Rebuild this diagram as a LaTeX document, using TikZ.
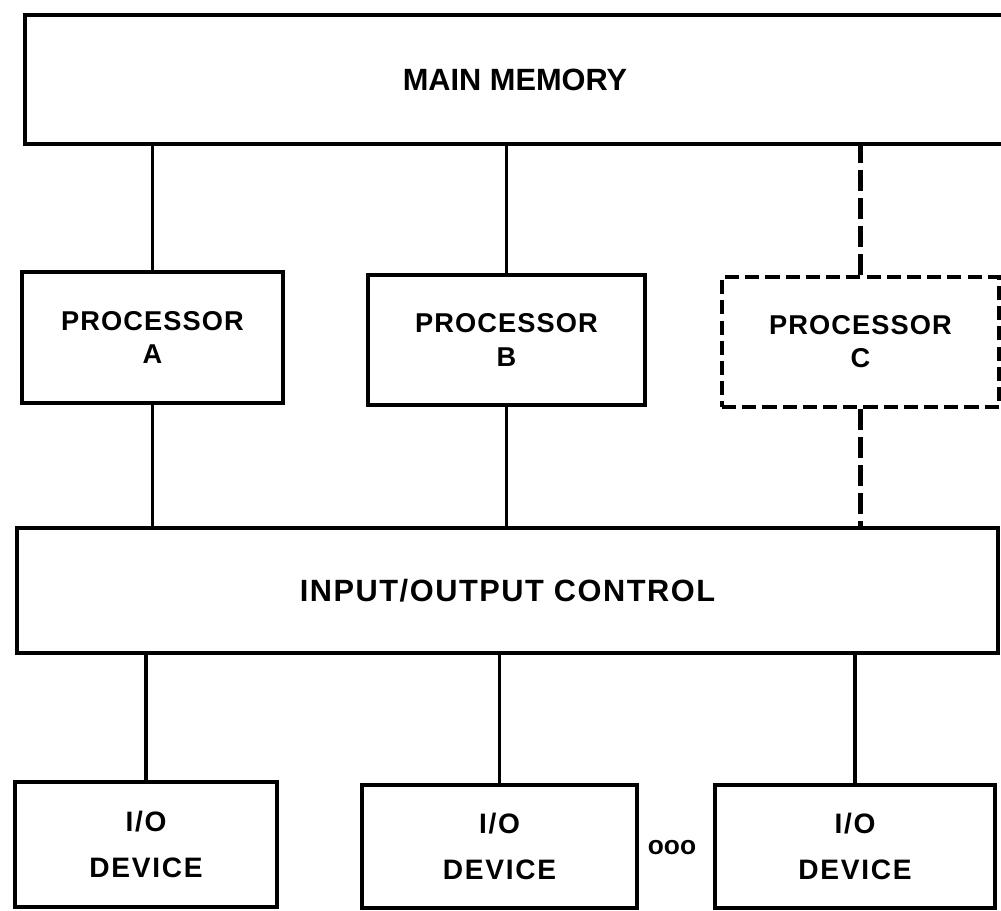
\documentclass[tikz,border=0pt]{standalone}
\usepackage{fontspec}
\setmainfont{Liberation Sans}
\usetikzlibrary{positioning}

\begin{document}
\begin{tikzpicture}[x=0.02cm, y=-0.02cm,
		unit/.style={draw, line width=2pt, align=center, font=\bfseries},
		spare/.style={unit, dash pattern=on 8pt off 3.5pt},
		link/.style={line width=2.2pt},
		sparelink/.style={line width=2.4pt, dash pattern=on 12pt off 4pt}]
	\useasboundingbox (0,0) rectangle (1001,911);
	\clip (0,0) rectangle (1001,911);
	% memory and processors
	\node[unit, minimum width=19.6cm, minimum height=2.58cm, font=\fontsize{17.5}{20}\selectfont\bfseries] (mem) at (515,79.5) {MAIN MEMORY};
	\node[unit, minimum width=5.22cm, minimum height=2.62cm, font=\addfontfeatures{LetterSpace=4}\fontsize{15.5}{18.8}\selectfont\bfseries] (pa) at (152.5,337.5) {PROCESSOR\\A};
	\node[unit, minimum width=5.54cm, minimum height=2.6cm, font=\addfontfeatures{LetterSpace=4}\fontsize{15.5}{18.8}\selectfont\bfseries] (pb) at (506.5,340) {PROCESSOR\\B};
	\node[spare, minimum width=5.54cm, minimum height=2.6cm, font=\addfontfeatures{LetterSpace=4}\fontsize{15.5}{18.8}\selectfont\bfseries] (pc) at (860.5,342) {PROCESSOR\\C};
	% i/o control and devices
	\node[unit, minimum width=19.62cm, minimum height=2.5cm, font=\addfontfeatures{LetterSpace=5}\fontsize{17.5}{20}\selectfont\bfseries] (io) at (507.5,590.5) {INPUT/OUTPUT CONTROL};
	\node[unit, minimum width=5.24cm, minimum height=2.5cm, font=\addfontfeatures{LetterSpace=6}\fontsize{16}{26}\selectfont\bfseries] (d1) at (146,844.5) {I/O\\DEVICE};
	\node[unit, minimum width=5.5cm, minimum height=2.46cm, font=\addfontfeatures{LetterSpace=6}\fontsize{16}{26}\selectfont\bfseries] (d2) at (499.5,846.5) {I/O\\DEVICE};
	\node[unit, minimum width=5.6cm, minimum height=2.46cm, font=\addfontfeatures{LetterSpace=6}\fontsize{16}{26}\selectfont\bfseries] (d3) at (855,846.5) {I/O\\DEVICE};
	\node[font=\fontsize{15}{18}\selectfont\bfseries, inner sep=0pt] (more) at (672,848) {ooo};
	% connections
	\draw[link] (pa.north) -- (pa.north |- mem.south);
	\draw[link] (pb.north) -- (pb.north |- mem.south);
	\draw[sparelink] (pc.north) -- (pc.north |- mem.south);
	\draw[link] (pa.south) -- (pa.south |- io.north);
	\draw[link] (pb.south) -- (pb.south |- io.north);
	\draw[sparelink] (pc.south) -- (pc.south |- io.north);
	\draw[link] (d1.north) -- (d1.north |- io.south);
	\draw[link] (d2.north) -- (d2.north |- io.south);
	\draw[link] (d3.north) -- (d3.north |- io.south);
\end{tikzpicture}
\end{document}
